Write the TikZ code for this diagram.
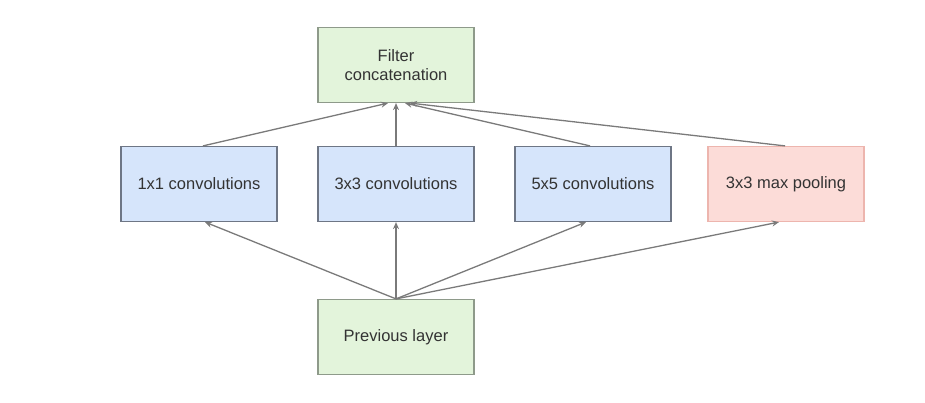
\documentclass[tikz,border=0pt]{standalone}
\usepackage{fontspec}
\setmainfont{Liberation Sans}
\usetikzlibrary{arrows.meta}
\definecolor{gfill}{HTML}{E3F4DB}
\definecolor{gdraw}{HTML}{8E9A8A}
\definecolor{bfill}{HTML}{D6E5FB}
\definecolor{bdraw}{HTML}{6E7685}
\definecolor{pfill}{HTML}{FCDCD8}
\definecolor{pdraw}{HTML}{EDB5AE}
\definecolor{txt}{HTML}{333333}
\definecolor{arr}{HTML}{7A7A7A}
\begin{document}
\begin{tikzpicture}[x=1pt,y=-1pt,
  box/.style={draw, line width=1.2pt, minimum width=156pt, minimum height=75pt, inner sep=0pt,
    text=txt, font=\fontsize{16.5}{19}\selectfont, align=center},
  gbox/.style={box, fill=gfill, draw=gdraw},
  bbox/.style={box, fill=bfill, draw=bdraw},
  pbox/.style={box, fill=pfill, draw=pdraw},
  conn/.style={draw=arr, line width=1.3pt, -{Stealth[length=7pt,width=6pt]}}]
\useasboundingbox (0,0) rectangle (925,403);
\node[gbox] (fc) at (396,65) {Filter\\concatenation};
\node[bbox] (c1) at (199,184) {1x1 convolutions};
\node[bbox] (c3) at (396,184) {3x3 convolutions};
\node[bbox] (c5) at (593,184) {5x5 convolutions};
\node[pbox] (mp) at (786,184) {3x3 max pooling};
\node[gbox] (pl) at (396,337) {Previous layer};
\coordinate (src) at (pl.north);
\draw[conn] (src) -- ([xshift=6pt]c1.south);
\draw[conn] (src) -- (c3.south);
\draw[conn] (src) -- ([xshift=-7pt]c5.south);
\draw[conn] (src) -- ([xshift=-7pt]mp.south);
\draw[conn] ([xshift=4pt]c1.north) -- ([xshift=-8pt]fc.south);
\draw[conn] (c3.north) -- (fc.south);
\draw[conn] ([xshift=-3pt]c5.north) -- ([xshift=9pt]fc.south);
\draw[conn] ([xshift=-1pt]mp.north) -- ([xshift=14pt]fc.south);
\end{tikzpicture}
\end{document}
